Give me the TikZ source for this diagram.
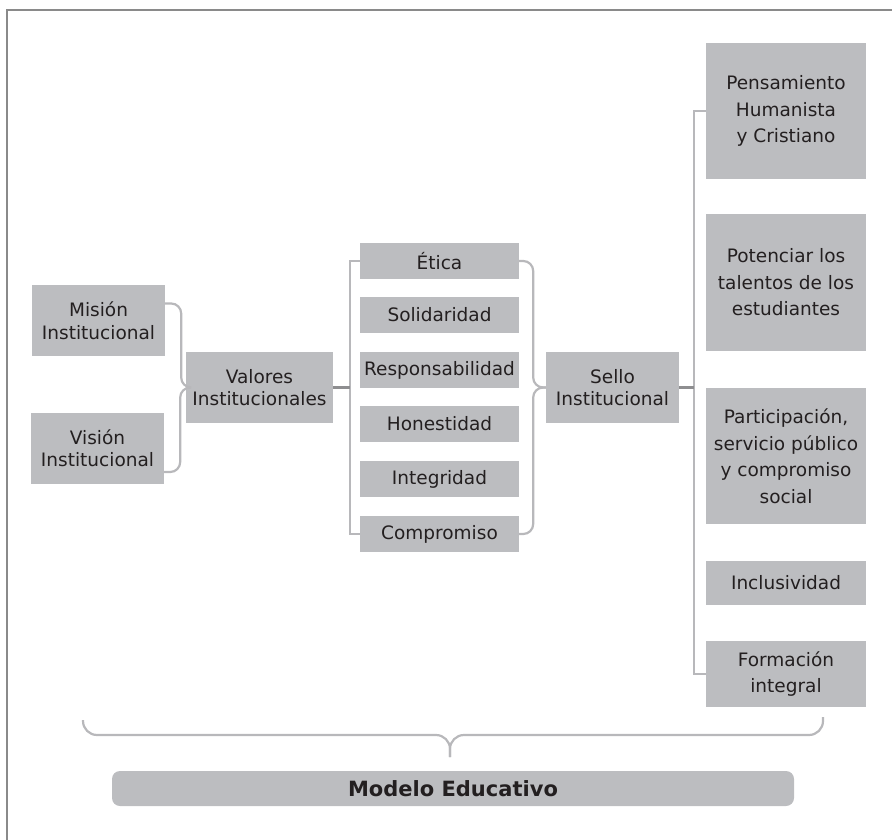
\documentclass[tikz,border=0pt]{standalone}
\usepackage{fontspec}
\setmainfont{DejaVu Sans}
\definecolor{boxfill}{HTML}{BCBDC0}
\definecolor{txt}{HTML}{231F20}
\definecolor{lin}{HTML}{B8B8BB}
\definecolor{darklin}{HTML}{8E8E90}
\definecolor{frame}{HTML}{8A8A8A}
\begin{document}
\begin{tikzpicture}[x=1pt,y=-1pt,
  box/.style={fill=boxfill, text=txt, inner sep=0pt, align=center,
    font=\fontsize{18.5}{22.5}\selectfont},
  lbox/.style={box, minimum width=133pt, minimum height=71pt},
  mbox/.style={box, minimum width=159pt, minimum height=36pt},
  rbox/.style={box, minimum width=160pt, font=\fontsize{18.5}{26.5}\selectfont},
  conn/.style={draw=lin, line width=2.2pt, rounded corners=10pt},
  sconn/.style={draw=lin, line width=2.2pt},
  dconn/.style={draw=darklin, line width=2.2pt},
]
\useasboundingbox (0,0) rectangle (892,840);
\draw[draw=frame, line width=2pt] (7,840) -- (7,10) -- (892,10);

% left column
\node[lbox] (mis) at (98.5,320.5) {Misión\\Institucional};
\node[lbox] (vis) at (97.5,448) {Visión\\Institucional};
\node[box, minimum width=147pt, minimum height=71pt] (val) at (259.5,387.5) {Valores\\Institucionales};

% values
\node[mbox] (etica) at (439.5,261) {Ética};
\node[mbox] (soli) at (439.5,315) {Solidaridad};
\node[mbox] (resp) at (439.5,370) {Responsabilidad};
\node[mbox] (hone) at (439.5,424) {Honestidad};
\node[mbox] (inte) at (439.5,479) {Integridad};
\node[mbox] (comp) at (439.5,534) {Compromiso};

\node[lbox] (sello) at (612.5,387.5) {Sello\\Institucional};

% right column
\node[rbox, minimum height=136pt] (pens) at (786,111) {Pensamiento\\Humanista\\y Cristiano};
\node[rbox, minimum height=137pt] (pot) at (786,282.5) {Potenciar los\\talentos de los\\estudiantes};
\node[rbox, minimum height=136pt] (part) at (786,456) {Participación,\\servicio público\\y compromiso\\social};
\node[rbox, minimum height=44pt] (incl) at (786,583) {Inclusividad};
\node[rbox, minimum height=66pt] (form) at (786,674) {Formación\\integral};

% bottom bar
\node[fill=boxfill, text=txt, rounded corners=8pt, inner sep=0pt,
  minimum width=682pt, minimum height=35pt,
  font=\fontsize{21}{25}\bfseries\selectfont] (mod) at (453,788.5) {Modelo Educativo};

% connectors
\draw[conn] ([yshift=17pt]mis.east) -- ++(16,0) |- (val.west);
\draw[conn] ([yshift=-24pt]vis.east) -- ++(16,0) |- (val.west);

\coordinate (vb) at (350,387.5);
\draw[sconn] (etica.west) -- ++(-10,0) |- (comp.west);
\draw[dconn] (val.east) -- (vb);

\draw[conn] (etica.east) -- ++(14,0) |- (sello.west);
\draw[conn] (comp.east) -- ++(14,0) |- (sello.west);

\coordinate (sb) at (694,387.5);
\draw[sconn] (pens.west) -- ++(-12,0) |- (form.west);
\draw[dconn] (sello.east) -- (sb);

% bottom brace
\coordinate (bl) at (83,720);
\coordinate (br) at (823,717);
\coordinate (bmid) at (450,735);
\coordinate (btip) at (450,757);
\draw[conn, rounded corners=14pt] (bl) |- (bmid) -- (btip);
\draw[conn, rounded corners=14pt] (br) |- (bmid) -- (btip);
\end{tikzpicture}
\end{document}
